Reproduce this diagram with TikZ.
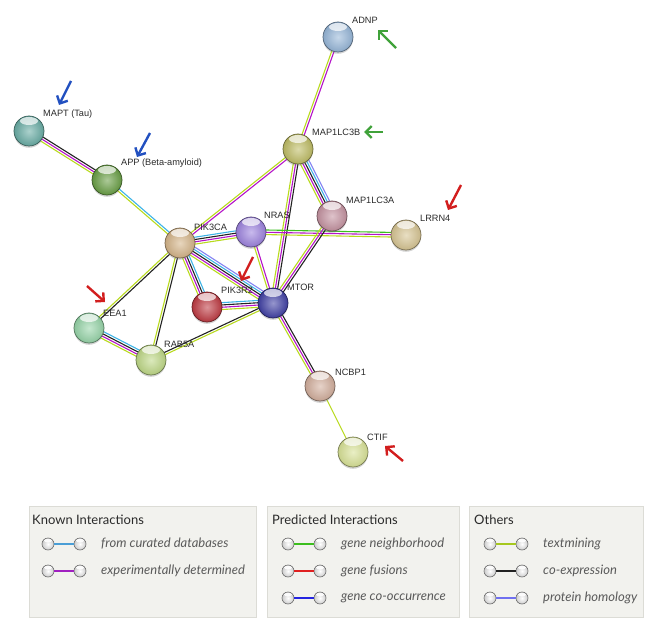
\documentclass[tikz,border=0pt]{standalone}
\usepackage{fontspec}
\setmainfont{Liberation Sans}
\newfontfamily\legfont{Lato}
\usetikzlibrary{arrows.meta,calc,backgrounds,shadows}
\definecolor{ctext}{HTML}{B8DA1E}
\definecolor{cexp}{HTML}{B414C8}
\definecolor{ccoex}{HTML}{222222}
\definecolor{cdb}{HTML}{3EB4E6}
\definecolor{chom}{HTML}{8484F2}
\definecolor{cnb}{HTML}{3CBE1E}
\definecolor{cfus}{HTML}{E02020}
\definecolor{cocc}{HTML}{2424E0}
\definecolor{lgdb}{HTML}{4A9ED6}
\definecolor{lgexp}{HTML}{A020C0}
\definecolor{lgtext}{HTML}{A6C81E}
\definecolor{lghom}{HTML}{7070F0}
\definecolor{labgray}{HTML}{2A2A2A}
\definecolor{leggray}{HTML}{5A5A5A}
\definecolor{legfill}{HTML}{F2F2EE}
\definecolor{legline}{HTML}{DCDCD6}
\definecolor{arblue}{HTML}{2250C0}
\definecolor{argreen}{HTML}{40A23A}
\definecolor{arred}{HTML}{D21E1E}
\definecolor{nADNP}{RGB}{150,182,216}
\definecolor{nMAPLCB}{RGB}{190,188,100}
\definecolor{nMAPLCA}{RGB}{196,146,160}
\definecolor{nLRRN}{RGB}{214,196,146}
\definecolor{nMAPT}{RGB}{104,172,164}
\definecolor{nAPP}{RGB}{104,158,68}
\definecolor{nPIKCA}{RGB}{212,180,136}
\definecolor{nNRAS}{RGB}{156,130,222}
\definecolor{nPIKR}{RGB}{190,58,66}
\definecolor{nMTOR}{RGB}{64,64,164}
\definecolor{nEEA}{RGB}{150,212,168}
\definecolor{nRAB}{RGB}{190,216,134}
\definecolor{nNCBP}{RGB}{210,174,156}
\definecolor{nCTIF}{RGB}{216,226,150}
\newcommand{\sedge}[3]{%
  \foreach \c [count=\i] in {#3} {\xdef\nlines{\i}}%
  \foreach \c [count=\i] in {#3} {%
    \pgfmathsetmacro\off{(\i-(\nlines+1)/2)*2.3}%
    \draw[line width=1.1pt,\c] ($(#1.center)!\off pt!90:(#2.center)$) -- ($(#2.center)!\off pt!-90:(#1.center)$);
  }}
\tikzset{
  prot/.style={circle, minimum size=30pt, inner sep=0pt, draw=#1!55!black, line width=0.7pt,
    shading=radial, inner color=#1!55!white, outer color=#1!92!black,
    drop shadow={opacity=0.35, shadow xshift=0pt, shadow yshift=-1.8pt},
    path picture={\fill[white,opacity=0.7] ([yshift=-5pt]path picture bounding box.north) ellipse (9pt and 4pt);}},
  plabel/.style={anchor=west, inner sep=0pt, text=labgray, font=\fontsize{9.2}{10}\selectfont},
  annot/.style={line width=2.4pt, -{Straight Barb[length=6pt,width=12pt]}},
  legbox/.style={draw=legline, fill=legfill, line width=0.8pt},
  legtitle/.style={anchor=west, inner sep=0pt, text=labgray, font=\legfont\fontsize{13}{15}\selectfont},
  legitem/.style={anchor=west, inner sep=0pt, text=leggray, font=\legfont\itshape\fontsize{13}{15}\selectfont},
  lball/.style={circle, minimum size=12pt, inner sep=0pt, shading=radial, inner color=white, outer color=gray!40,
    draw=gray!85!black, line width=0.6pt,
    path picture={\fill[white,opacity=0.9] ([yshift=-2.5pt]path picture bounding box.north) ellipse (4pt and 2pt);}},
  lline/.style={line width=1.8pt}
}
\begin{document}
\begin{tikzpicture}[x=1pt,y=-1pt]
\useasboundingbox (0,0) rectangle (656,631);
% proteins
\node[prot=nADNP] (ADNP) at (338,37) {};
\node[prot=nMAPLCB] (MAP1LC3B) at (298,149) {};
\node[prot=nMAPLCA] (MAP1LC3A) at (332,216) {};
\node[prot=nLRRN] (LRRN4) at (406,235) {};
\node[prot=nMAPT] (MAPT) at (29,131) {};
\node[prot=nAPP] (APP) at (107,180) {};
\node[prot=nPIKCA] (PIK3CA) at (180,243) {};
\node[prot=nNRAS] (NRAS) at (251,232) {};
\node[prot=nPIKR] (PIK3R2) at (207,307) {};
\node[prot=nMTOR] (MTOR) at (273,303) {};
\node[prot=nEEA] (EEA1) at (89,328) {};
\node[prot=nRAB] (RAB5A) at (151,360) {};
\node[prot=nNCBP] (NCBP1) at (320,386) {};
\node[prot=nCTIF] (CTIF) at (353,452) {};
% labels
\node[plabel] (lADNP) at (352,20) {ADNP};
\node[plabel] (lMAP1LC3B) at (312,132) {MAP1LC3B};
\node[plabel] (lMAP1LC3A) at (346,200) {MAP1LC3A};
\node[plabel] (lLRRN4) at (420,218) {LRRN4};
\node[plabel] (lMAPT) at (43,114) {MAPT (Tau)};
\node[plabel] (lAPP) at (121,163) {APP (Beta-amyloid)};
\node[plabel] (lNRAS) at (264,215) {NRAS};
\node[plabel] (lPIK3CA) at (194,227) {PIK3CA};
\node[plabel] (lPIK3R2) at (221,290) {PIK3R2};
\node[plabel] (lMTOR) at (287,287) {MTOR};
\node[plabel] (lEEA1) at (103,313) {EEA1};
\node[plabel] (lRAB5A) at (164,344) {RAB5A};
\node[plabel] (lNCBP1) at (335,372) {NCBP1};
\node[plabel] (lCTIF) at (367,437) {CTIF};
% edges
\begin{pgfonlayer}{background}
\sedge{MAPT}{APP}{ctext,cexp,ccoex}
\sedge{APP}{PIK3CA}{ctext,cdb}
\sedge{ADNP}{MAP1LC3B}{ctext,cexp}
\sedge{MAP1LC3B}{PIK3CA}{ctext,cexp}
\sedge{MAP1LC3B}{MAP1LC3A}{ctext,cexp,ccoex,cdb,chom}
\sedge{MAP1LC3B}{MTOR}{ctext,cexp,ccoex}
\sedge{NRAS}{LRRN4}{ctext,cexp,cnb}
\sedge{MAP1LC3A}{MTOR}{ctext,cexp,ccoex}
\sedge{PIK3CA}{NRAS}{ctext,cexp,ccoex,cdb}
\sedge{NRAS}{MTOR}{ctext,cexp}
\sedge{PIK3CA}{MTOR}{ctext,cexp,ccoex,cdb,chom}
\sedge{PIK3CA}{PIK3R2}{ctext,cexp,ccoex,cdb}
\sedge{PIK3R2}{MTOR}{ctext,cexp,ccoex,cdb}
\sedge{PIK3CA}{EEA1}{ctext,ccoex}
\sedge{PIK3CA}{RAB5A}{ctext,ccoex}
\sedge{EEA1}{RAB5A}{ctext,cexp,ccoex,cdb}
\sedge{RAB5A}{MTOR}{ctext,ccoex}
\sedge{MTOR}{NCBP1}{ctext,cexp,ccoex}
\sedge{NCBP1}{CTIF}{ctext}
\end{pgfonlayer}
% annotation arrows
\coordinate (b1s) at (71,81);   \coordinate (b1e) at (59,105);
\coordinate (b2s) at (150,133); \coordinate (b2e) at (137,157);
\coordinate (g1s) at (396,48);  \coordinate (g1e) at (378,30);
\coordinate (g2s) at (383,132); \coordinate (g2e) at (364,132);
\coordinate (r1s) at (461,185); \coordinate (r1e) at (448,210);
\coordinate (r2s) at (253,257); \coordinate (r2e) at (241,281);
\coordinate (r3s) at (87,286);  \coordinate (r3e) at (105,302);
\coordinate (r4s) at (403,461); \coordinate (r4e) at (385,446);
\draw[annot, arblue] (b1s) -- (b1e);
\draw[annot, arblue] (b2s) -- (b2e);
\draw[annot, argreen] (g1s) -- (g1e);
\draw[annot, argreen] (g2s) -- (g2e);
\draw[annot, arred] (r1s) -- (r1e);
\draw[annot, arred] (r2s) -- (r2e);
\draw[annot, arred] (r3s) -- (r3e);
\draw[annot, arred] (r4s) -- (r4e);
% legend
\draw[legbox] (29,506) rectangle (256,617);
\draw[legbox] (267,506) rectangle (459,617);
\draw[legbox] (469,506) rectangle (643,617);
\node[legtitle] (tKnown) at (32,520) {Known Interactions};
\node[legtitle] (tPred) at (272,520) {Predicted Interactions};
\node[legtitle] (tOther) at (474,520) {Others};
% known
\node[lball] (k1a) at (48,544) {}; \node[lball] (k1b) at (80,544) {};
\node[lball] (k2a) at (48,571) {}; \node[lball] (k2b) at (80,571) {};
\node[legitem] (k1t) at (101,544) {from curated databases};
\node[legitem] (k2t) at (101,571) {experimentally determined};
% predicted
\node[lball] (p1a) at (288,544) {}; \node[lball] (p1b) at (320,544) {};
\node[lball] (p2a) at (288,571) {}; \node[lball] (p2b) at (320,571) {};
\node[lball] (p3a) at (288,598) {}; \node[lball] (p3b) at (320,598) {};
\node[legitem] (p1t) at (341,544) {gene neighborhood};
\node[legitem] (p2t) at (341,571) {gene fusions};
\node[legitem] (p3t) at (341,598) {gene co-occurrence};
% others
\node[lball] (o1a) at (490,544) {}; \node[lball] (o1b) at (522,544) {};
\node[lball] (o2a) at (490,571) {}; \node[lball] (o2b) at (522,571) {};
\node[lball] (o3a) at (490,598) {}; \node[lball] (o3b) at (522,598) {};
\node[legitem] (o1t) at (543,544) {textmining};
\node[legitem] (o2t) at (543,571) {co-expression};
\node[legitem] (o3t) at (543,598) {protein homology};
\draw[lline, lgdb] (k1a) -- (k1b);
\draw[lline, lgexp] (k2a) -- (k2b);
\draw[lline, cnb] (p1a) -- (p1b);
\draw[lline, cfus] (p2a) -- (p2b);
\draw[lline, cocc] (p3a) -- (p3b);
\draw[lline, lgtext] (o1a) -- (o1b);
\draw[lline, ccoex] (o2a) -- (o2b);
\draw[lline, lghom] (o3a) -- (o3b);
\end{tikzpicture}
\end{document}
